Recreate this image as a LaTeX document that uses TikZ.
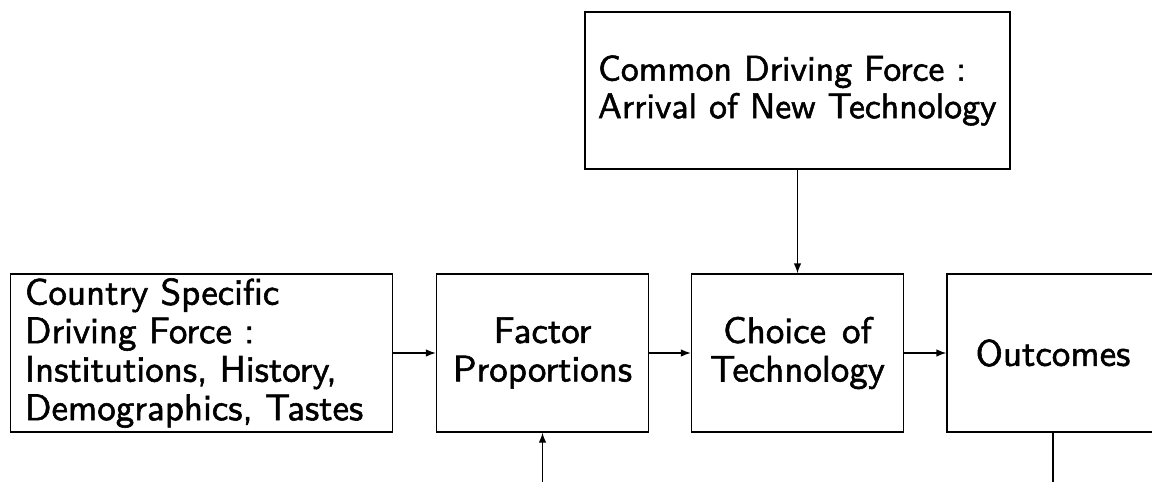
\documentclass[tikz,border=0pt]{standalone}
\usepackage{fontspec}
\newfontfamily\lmsb[Extension=.otf, FakeBold=1.5, WordSpace=1.3]{lmsans10-regular}
\usetikzlibrary{arrows.meta}
\begin{document}
\begin{tikzpicture}[x=1pt,y=-1pt,
  box/.style={draw, line width=1.3pt, rectangle, inner sep=0pt, minimum height=158pt,
    font=\lmsb\fontsize{37}{38.5}\selectfont},
  topfont/.style={font=\lmsb\fontsize{35.8}{37.5}\selectfont},
  arr/.style={line width=1.3pt, -{Latex[length=10pt,width=7.5pt]}},
  ln/.style={line width=1.3pt}]
\useasboundingbox (0,0) rectangle (1152,482);
\clip (0,0) rectangle (1152,482);
\node[box, minimum width=382pt, text width=354pt, align=left] (country) at (201.8,353)
  {\mbox{Country Specific}\\\mbox{Driving Force :}\\\mbox{Institutions, History,}\\\mbox{Demographics, Tastes}};
\node[box, minimum width=212pt, align=center] (factor) at (542.5,353) {Factor\\Proportions};
\node[box, minimum width=212pt, align=center] (choice) at (797.5,353) {Choice of\\Technology};
\node[box, minimum width=212pt, align=center] (outcomes) at (1053,353) {Outcomes};
\node[box, topfont, minimum width=425pt, minimum height=157pt, text width=399pt, align=left] (common) at (797.5,90.5)
  {\mbox{Common Driving Force :}\\\mbox{Arrival of New Technology}};
\coordinate (inbottom) at (542.5,482);
\coordinate (outbottom) at (1053,482);
\draw[arr] (country.east) -- (factor.west);
\draw[arr] (factor.east) -- (choice.west);
\draw[arr] (choice.east) -- (outcomes.west);
\draw[arr] (common.south) -- (choice.north);
\draw[arr] (inbottom) -- (factor.south);
\draw[ln] (outcomes.south) -- (outbottom);
\end{tikzpicture}
\end{document}
